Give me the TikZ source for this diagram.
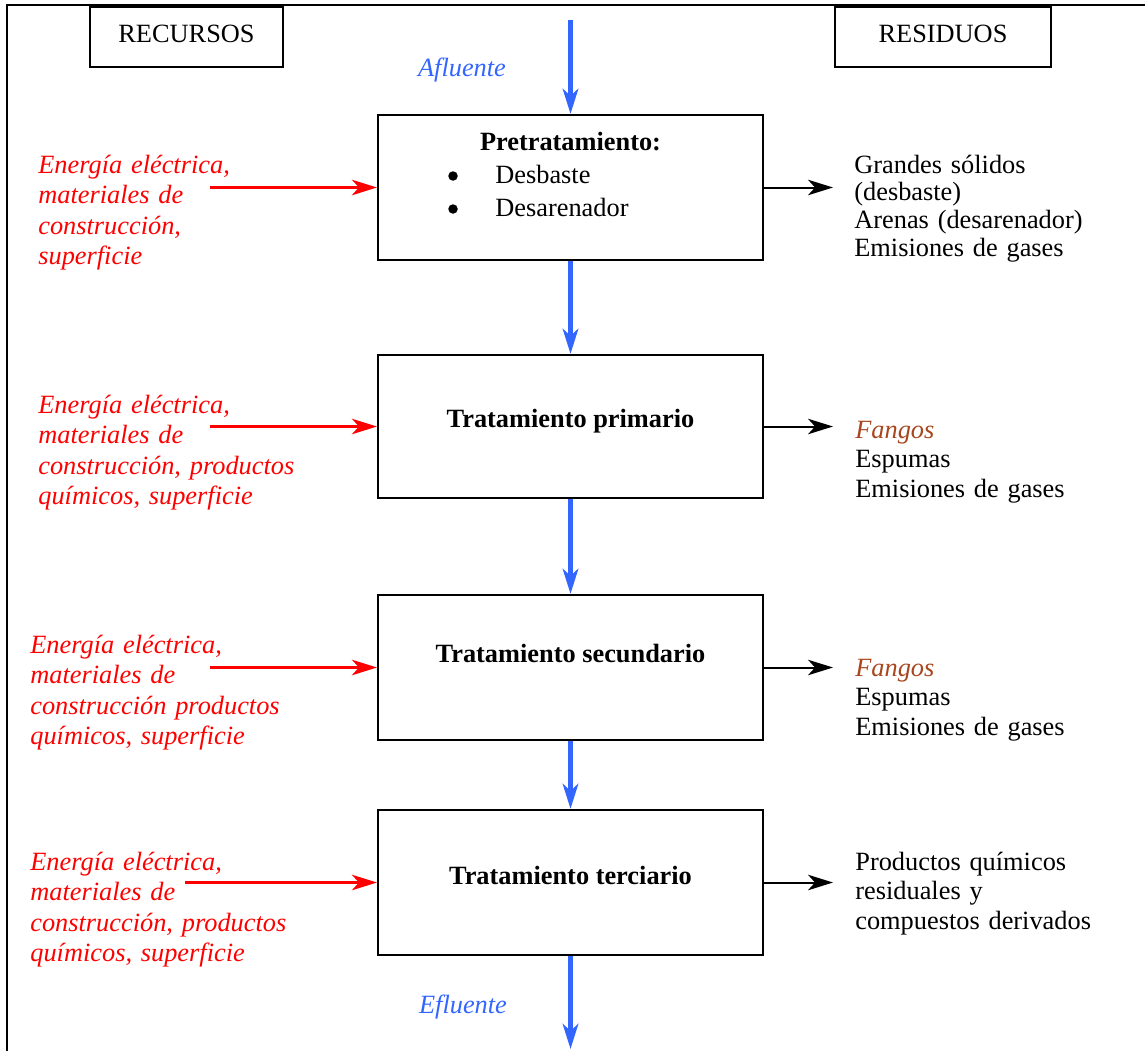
\documentclass[tikz,border=0pt]{standalone}
\usepackage{fontspec}
\setmainfont{Liberation Serif}
\usetikzlibrary{arrows.meta}
\definecolor{flowblue}{RGB}{51,102,255}
\definecolor{fango}{RGB}{168,70,30}
\tikzset{
  procbox/.style={draw, line width=0.045cm, minimum width=7.7cm, minimum height=2.9cm, inner sep=0pt},
  hdrbox/.style={draw, line width=0.04cm, minimum height=1.2cm, inner sep=0pt, anchor=center},
  tip/.style={-{Stealth[length=0.5cm,width=0.31cm,inset=0.14cm]}},
  flow/.style={draw=flowblue, line width=0.09cm, tip},
  inp/.style={draw=red, line width=0.05cm, tip},
  outp/.style={draw=black, line width=0.04cm, tip},
  base15/.style={font=\fontsize{15}{17.4}\selectfont},
  lefttxt/.style={text=red, font=\fontsize{15}{17.4}\selectfont\itshape, align=left, text width=7cm, anchor=base west, inner sep=0pt},
  righttxt/.style={font=\fontsize{15}{17}\selectfont, align=left, text width=6cm, anchor=base west, inner sep=0pt},
  boxlabel/.style={font=\fontsize{15}{17.4}\selectfont\bfseries, anchor=base, inner sep=0pt},
  plain/.style={font=\fontsize{15}{17.4}\selectfont, anchor=base, inner sep=0pt},
  bulletdot/.style={circle, fill=black, inner sep=0pt, minimum size=0.19cm},
}
\begin{document}
\begin{tikzpicture}[x=0.02cm, y=-0.02cm]
\useasboundingbox (0,0) rectangle (1145,1051);
% frame
\draw[line width=0.04cm] (7,1051) -- (7,5) -- (1145,5);
% headers
\node[hdrbox, minimum width=3.86cm, base15] (rec) at (186.5,37) {};
\node[plain] (rect) at (186.5,43) {RECURSOS};
\node[hdrbox, minimum width=4.32cm, base15] (res) at (943,37) {};
\node[plain] (rest) at (943,43) {RESIDUOS};
% process boxes
\node[procbox] (pre) at (570.5,187.5) {};
\node[procbox, minimum height=2.86cm] (pri) at (570.5,426.5) {};
\node[procbox] (sec) at (570.5,667.5) {};
\node[procbox] (ter) at (570.5,882.5) {};
% box texts
\node[boxlabel] (pret) at (570.5,150) {Pretratamiento:};
\node[bulletdot] (bul1) at (453,176) {};
\node[bulletdot] (bul2) at (453,209) {};
\node[plain, anchor=base west] (it1) at (495,183) {Desbaste};
\node[plain, anchor=base west] (it2) at (495,216) {Desarenador};
\node[boxlabel] (prit) at (570.5,427) {Tratamiento primario};
\node[boxlabel] (sect) at (570.5,662) {Tratamiento secundario};
\node[boxlabel] (tert) at (570.5,884) {Tratamiento terciario};
% main flow
\coordinate (ain) at (570.5,20);
\coordinate (aout) at (570.5,1049);
\draw[flow] (ain) -- (pre.north);
\draw[flow] (pre.south) -- (pri.north);
\draw[flow] (pri.south) -- (sec.north);
\draw[flow] (sec.south) -- (ter.north);
\draw[flow] (ter.south) -- (aout);
\node[plain, text=flowblue, font=\fontsize{15}{17.4}\selectfont\itshape] (afl) at (462,77) {Afluente};
\node[plain, text=flowblue, font=\fontsize{15}{17.4}\selectfont\itshape] (efl) at (463,1013) {Efluente};
% inputs
\coordinate (r1) at (210,187.5);
\coordinate (r2) at (210,426.5);
\coordinate (r3) at (210,667.5);
\coordinate (r4) at (185,882.5);
\draw[inp] (r1) -- (pre.west);
\draw[inp] (r2) -- (pri.west);
\draw[inp] (r3) -- (sec.west);
\draw[inp] (r4) -- (ter.west);
\node[lefttxt] (in1) at (38,173) {Energía eléctrica,\\materiales de\\construcción,\\superficie};
\node[lefttxt] (in2) at (38,413) {Energía eléctrica,\\materiales de\\construcción, productos\\químicos, superficie};
\node[lefttxt] (in3) at (30,653) {Energía eléctrica,\\materiales de\\construcción productos\\químicos, superficie};
\node[lefttxt] (in4) at (30,870) {Energía eléctrica,\\materiales de\\construcción, productos\\químicos, superficie};
% outputs
\coordinate (o1) at (833,187.5);
\coordinate (o2) at (833,426.5);
\coordinate (o3) at (833,667.5);
\coordinate (o4) at (833,882.5);
\draw[outp] (pre.east) -- (o1);
\draw[outp] (pri.east) -- (o2);
\draw[outp] (sec.east) -- (o3);
\draw[outp] (ter.east) -- (o4);
\node[righttxt, font=\fontsize{15}{15.9}\selectfont] (w1) at (854,173) {Grandes sólidos\\(desbaste)\\Arenas (desarenador)\\Emisiones de gases};
\node[righttxt] (w2) at (855,438) {\textcolor{fango}{\itshape Fangos}\\Espumas\\Emisiones de gases};
\node[righttxt] (w3) at (855,676) {\textcolor{fango}{\itshape Fangos}\\Espumas\\Emisiones de gases};
\node[righttxt] (w4) at (855,870) {Productos químicos\\residuales y\\compuestos derivados};
\end{tikzpicture}
\end{document}
